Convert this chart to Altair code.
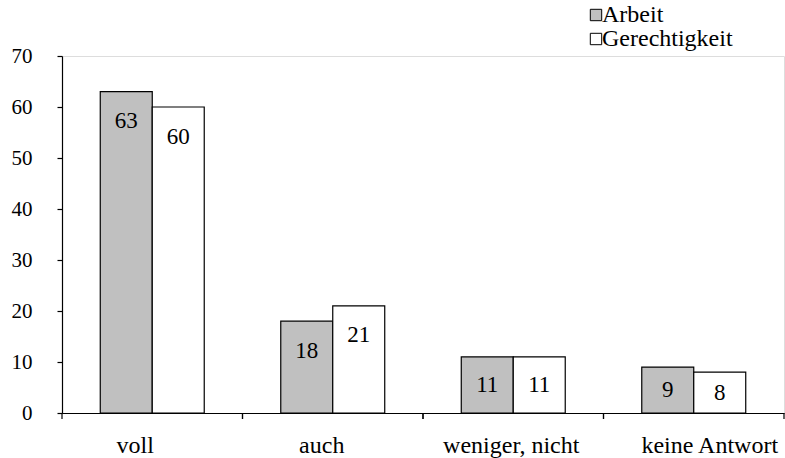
import altair as alt
import pandas as pd

# Survey answers per category, two series
categories = ["voll", "auch", "weniger, nicht", "keine Antwort"]
series = ["Arbeit", "Gerechtigkeit"]
arbeit = [63, 18, 11, 9]
gerechtigkeit = [60, 21, 11, 8]

rows = []
for cat, a, g in zip(categories, arbeit, gerechtigkeit):
    rows.append({"cat": cat, "serie": "Arbeit", "value": a})
    rows.append({"cat": cat, "serie": "Gerechtigkeit", "value": g})
df = pd.DataFrame(rows)

FONT = "Liberation Serif"

x_scale = alt.Scale(domain=categories, paddingInner=0, paddingOuter=0)
off_scale = alt.Scale(domain=series, paddingInner=0, paddingOuter=0.736)
y_scale = alt.Scale(domain=[0, 70], nice=False)
fill_scale = alt.Scale(domain=series, range=["#c0c0c0", "#ffffff"])

# small horizontal nudges of the category labels
label_shift = alt.ExprRef(
    "datum.value == 'voll' ? -17 : datum.value == 'auch' ? -11 : "
    "datum.value == 'keine Antwort' ? 16 : -2"
)

base = alt.Chart(df)

bars = base.mark_bar(stroke="black", strokeWidth=1.2).encode(
    x=alt.X("cat:N", scale=x_scale, sort=categories,
            axis=alt.Axis(title=None, labelAngle=0, ticks=False, domainColor="black",
                          domainWidth=1.2, labelFontSize=24, labelPadding=20,
                          labelOffset=label_shift,
                          labelColor="black", labelFont=FONT)),
    xOffset=alt.XOffset("serie:N", scale=off_scale, sort=series),
    y=alt.Y("value:Q", scale=y_scale,
            axis=alt.Axis(title=None, values=list(range(0, 71, 10)), grid=False,
                          domainColor="black", domainWidth=1.2, tickColor="black",
                          tickSize=5, tickWidth=1.2, labelFontSize=21, labelPadding=25,
                          labelColor="black", labelFont=FONT)),
    fill=alt.Fill("serie:N", scale=fill_scale, sort=series,
                  legend=alt.Legend(title=None, orient="none", legendX=522, legendY=-53,
                                    symbolType="square", symbolSize=130,
                                    symbolStrokeColor="black", symbolStrokeWidth=1,
                                    labelFontSize=24, labelFont=FONT, labelColor="black",
                                    labelOffset=alt.ExprRef("-6"), rowPadding=-1)),
)

labels = base.transform_calculate(
    lab="datum.value - min(5.8, datum.value / 2)"
).mark_text(font=FONT, fontSize=23, color="black", baseline="middle").encode(
    x=alt.X("cat:N", scale=x_scale, sort=categories),
    xOffset=alt.XOffset("serie:N", scale=off_scale, sort=series),
    y=alt.Y("lab:Q", scale=y_scale),
    text=alt.Text("value:Q"),
)

# Category boundary ticks below the x axis
tick_df = pd.DataFrame({"cat": categories})
ticks_start = alt.Chart(tick_df).mark_rule(color="black", strokeWidth=1.2).encode(
    x=alt.X("cat:N", scale=x_scale, sort=categories, bandPosition=0),
    y=alt.value(357), y2=alt.value(363),
)
ticks_end = alt.Chart(tick_df).mark_rule(color="black", strokeWidth=1.2).encode(
    x=alt.X("cat:N", scale=x_scale, sort=categories, bandPosition=1),
    y=alt.value(357), y2=alt.value(363),
)

chart = alt.layer(bars, labels, ticks_start, ticks_end).properties(
    width=722, height=357,
    autosize=alt.AutoSizeParams(type="none"),
    padding={"left": 62, "top": 56, "right": 1, "bottom": 45},
    background="white",
).configure_view(stroke=None).configure(font=FONT)

chart.save("out.html", embed_options={"renderer": "svg", "actions": False})
